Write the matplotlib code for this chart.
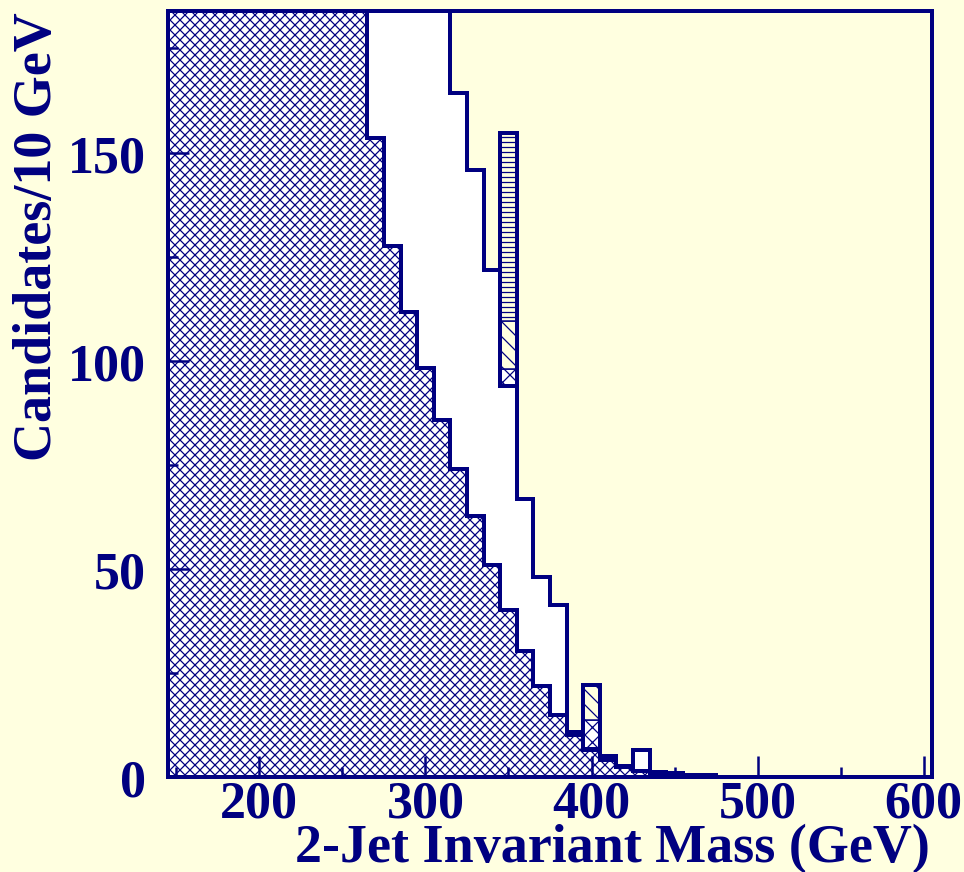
import numpy as np
import matplotlib
matplotlib.use("Agg")
import matplotlib.pyplot as plt

DPI = 90
PT = 72 / DPI  # points per pixel

navy = "#000080"
paper = "#FFFFE0"

# 10 GeV bins, centred on 150 ... 470 GeV
bin_centers = np.arange(150, 480, 10)

# crosshatched component (bins up to 260 run off the top of the plot)
background = [520, 560, 590, 600, 590, 560, 520, 470, 410, 350, 290, 230,
              153.5, 127.5, 111.8, 98.3, 85.7, 74.0, 62.6, 51.0, 40.2, 30.2,
              21.8, 14.8, 10.0, 6.5, 4.0, 2.5, 1.5, 0.8, 0.5, 0.3, 0.2]

# total of the open (white) histogram
total = [600, 640, 670, 680, 670, 640, 600, 550, 490, 430, 370, 310,
         260, 235, 212, 198, 188, 164.3, 145.8, 121.8, 94.0, 66.7,
         48.0, 41.3, 10.9, 6.8, 5.1, 2.7, 6.5, 1.3, 0.9, 0.6, 0.6]

# small stacked pieces drawn on top of the total
sig_centers = [350, 400]
sig_cross = [4.0, 6.9]
sig_diag = [11.6, 8.4]
sig_horiz = [45.2, 0.0]

plt.rcParams["font.family"] = ["Liberation Serif", "DejaVu Serif"]
plt.rcParams["font.weight"] = "bold"
plt.rcParams["hatch.color"] = navy
plt.rcParams["hatch.linewidth"] = 1.0

fig = plt.figure(figsize=(965 / DPI, 873 / DPI), dpi=DPI, facecolor=paper)
ax = fig.add_axes([168 / 965, 1 - 778 / 873, (932 - 168) / 965, (778 - 12) / 873])
ax.set_facecolor(paper)

edges = np.append(bin_centers - 5, bin_centers[-1] + 5)
lw = 4 * PT

ax.stairs(total, edges, fill=True, facecolor="white", edgecolor="none", zorder=1)
ax.stairs(background, edges, fill=True, facecolor="white", edgecolor=navy,
          linewidth=0, hatch="xxx", zorder=1.2)
ax.stairs(total, edges, color=navy, linewidth=lw, zorder=1.4)
ax.stairs(background, edges, color=navy, linewidth=lw, zorder=1.5)

base = np.array([total[list(bin_centers).index(c)] for c in sig_centers])
ax.bar(sig_centers, sig_cross, width=10, bottom=base, facecolor="white",
       edgecolor=navy, hatch="xx", linewidth=1.5 * PT, zorder=1.6)
ax.bar(sig_centers, sig_diag, width=10, bottom=base + sig_cross, facecolor=paper,
       edgecolor=navy, hatch="\\\\", linewidth=1.5 * PT, zorder=1.6)
ax.bar(sig_centers, sig_horiz, width=10, bottom=base + np.add(sig_cross, sig_diag),
       facecolor=paper, edgecolor=navy, hatch="---", linewidth=1.5 * PT, zorder=1.6)
ax.bar(sig_centers, np.add(np.add(sig_cross, sig_diag), sig_horiz), width=10,
       bottom=base, fill=False, edgecolor=navy, linewidth=lw, zorder=1.7)

ax.set_xlim(145, 605)
ax.set_ylim(0, 184)
ax.set_xticks([200, 300, 400, 500, 600])
ax.set_xticks(np.arange(150, 601, 50), minor=True)
ax.set_yticks([0, 50, 100, 150])
ax.set_yticks(np.arange(0, 184, 25), minor=True)

ax.tick_params(which="both", direction="in", top=False, right=False,
               color=navy, labelcolor=navy, labelsize=52 * PT, width=2.5 * PT)
ax.tick_params(which="major", length=21 * PT)
ax.tick_params(which="minor", length=10 * PT)
ax.tick_params(axis="x", pad=2 * PT)
ax.tick_params(axis="y", pad=22 * PT)

for sp in ax.spines.values():
    sp.set_color(navy)
    sp.set_linewidth(4 * PT)
    sp.set_zorder(10)

fig.text(930 / 965, 1 - 862 / 873, "2-Jet Invariant Mass (GeV)", ha="right",
         va="baseline", color=navy, fontsize=54 * PT, fontweight="bold")
fig.text(13 / 965, 1 - 12 / 873, "Candidates/10 GeV", rotation=90, ha="left",
         va="top", color=navy, fontsize=54 * PT, fontweight="bold")

fig.savefig("out.png", dpi=DPI, facecolor=paper)
